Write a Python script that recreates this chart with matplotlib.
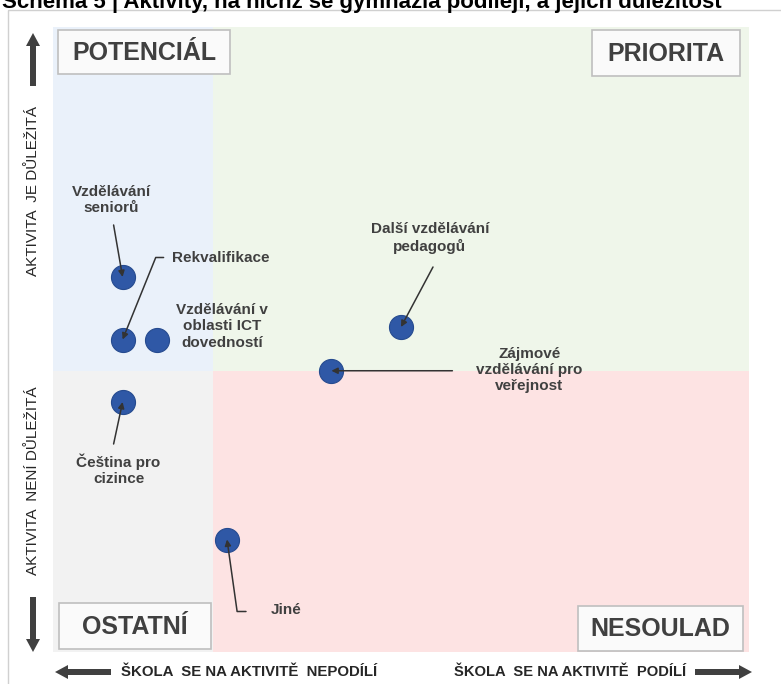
import matplotlib
matplotlib.use("Agg")
import matplotlib.pyplot as plt
from matplotlib.patches import Rectangle, FancyArrow

# activities, how much the schools take part (x) and how important it is (y)
activities = ["Vzdělávání\nseniorů", "Rekvalifikace", "Vzdělávání v\noblasti ICT\ndovedností",
              "Další vzdělávání\npedagogů", "Zájmové\nvzdělávání pro\nveřejnost",
              "Čeština pro\ncizince", "Jiné"]
participation = [10, 10, 15, 50, 40, 10, 25]
importance = [60, 50, 50, 52, 45, 40, 18]

quadrants = ["POTENCIÁL", "PRIORITA", "OSTATNÍ", "NESOULAD"]
split_x, split_y = 23, 45

TXT = "#404040"
FONT = ["Liberation Sans", "DejaVu Sans"]

W, H = 781, 684
fig = plt.figure(figsize=(W / 100, H / 100), dpi=100)

# overlay in pixel units for frame, arrows and side labels
ov = fig.add_axes([0, 0, 1, 1], zorder=2)
ov.set_xlim(0, W)
ov.set_ylim(H, 0)
ov.axis("off")
ov.patch.set_alpha(0)

# title is cut by the top edge in the source picture
ov.text(2, 8, "Schéma 5 | Aktivity, na nichž se gymnázia podílejí, a jejich důležitost",
        fontsize=16, fontweight="bold", family=FONT, color="black", va="baseline")
ov.add_patch(Rectangle((8, 10), 800, 700, fill=False, edgecolor="#d0d0d0", lw=1))

arrow_kw = dict(width=6, head_width=14, head_length=13, length_includes_head=True,
                color="#404040", lw=0)
ov.add_patch(FancyArrow(33, 86, 0, -53, **arrow_kw))
ov.add_patch(FancyArrow(33, 597, 0, 55, **arrow_kw))
ov.add_patch(FancyArrow(111, 672, -56, 0, **arrow_kw))
ov.add_patch(FancyArrow(695, 672, 57, 0, **arrow_kw))

ov.text(33, 191, "AKTIVITA  JE DŮLEŽITÁ", rotation=90, ha="center", va="center",
        fontsize=11, family=FONT, color="#262626")
ov.text(33, 481, "AKTIVITA  NENÍ DŮLEŽITÁ", rotation=90, ha="center", va="center",
        fontsize=11, family=FONT, color="#262626")
ov.text(249, 672, "ŠKOLA  SE NA AKTIVITĚ  NEPODÍLÍ", ha="center", va="center",
        fontsize=10.8, fontweight="bold", family=FONT, color="#262626")
ov.text(570, 672, "ŠKOLA  SE NA AKTIVITĚ  PODÍLÍ", ha="center", va="center",
        fontsize=10.6, fontweight="bold", family=FONT, color="#262626")

# main quadrant axes
ax = fig.add_axes([53 / W, (H - 652) / H, 696 / W, 625 / H], zorder=1)
ax.set_xlim(0, 100)
ax.set_ylim(0, 100)
ax.axis("off")
ax.patch.set_alpha(0)

ax.add_patch(Rectangle((0, split_y), split_x, 100 - split_y, color="#eaf1fa", lw=0))
ax.add_patch(Rectangle((split_x, split_y), 100 - split_x, 100 - split_y, color="#eff6ea", lw=0))
ax.add_patch(Rectangle((0, 0), split_x, split_y, color="#f2f2f2", lw=0))
ax.add_patch(Rectangle((split_x, 0), 100 - split_x, split_y, color="#fde3e3", lw=0))

# quadrant name boxes (pixel layout)
boxes = [(58, 30, 172, 44), (592, 30, 148, 46), (59, 603, 152, 46), (578, 606, 165, 45)]
for name, (bx, by, bw, bh) in zip(quadrants, boxes):
    ov.add_patch(Rectangle((bx, by), bw, bh, facecolor="#fafafa", edgecolor="#bfbfbf",
                           lw=1.2, zorder=5))
    ov.text(bx + bw / 2, by + bh / 2 + 1, name, ha="center", va="center", fontsize=18,
            fontweight="bold", family=FONT, color=TXT, zorder=6)

ax.scatter(participation, importance, s=300, color="#2f58a6", edgecolor="#264b8f",
           lw=0.8, zorder=3)

# label placement in pixel offsets: text offset, align, arrow start, connection style
layout = [
    ((-11, 77), "center", (-9, 52), "arc3"),
    ((49, 81), "left", (41, 82), "angle,angleA=0,angleB=68,rad=0"),
    ((65, 13), "center", None, None),
    ((29, 89), "center", (32, 60), "arc3"),
    ((198, 1), "center", (121, 0), "arc3"),
    ((-4, -68), "center", (-9, -42), "arc3"),
    ((44, -71), "left", (19, -72), "angle,angleA=0,angleB=-82,rad=0"),
]
for name, x, y, (toff, ha, aoff, conn) in zip(activities, participation, importance, layout):
    ax.annotate(name, xy=(x, y), xytext=toff, textcoords="offset pixels", ha=ha,
                va="center", fontsize=11, fontweight="bold", family=FONT, color=TXT,
                multialignment="center", zorder=4)
    if aoff is not None:
        ax.annotate("", xy=(x, y), xytext=aoff, textcoords="offset pixels",
                    arrowprops=dict(arrowstyle="-|>", color="#333333", lw=1.1,
                                    shrinkA=0, shrinkB=0, mutation_scale=9,
                                    connectionstyle=conn), zorder=4)

fig.savefig("out.png", dpi=100)
